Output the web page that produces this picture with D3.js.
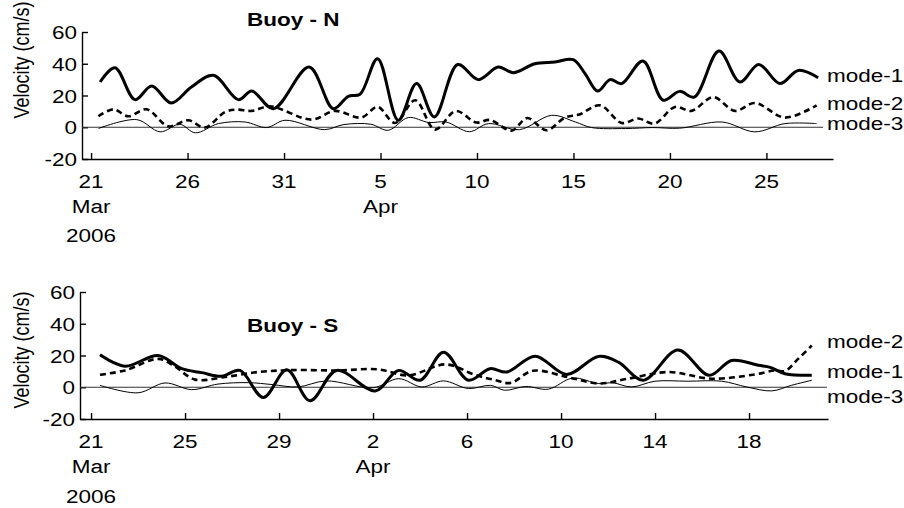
<!DOCTYPE html>
<html>
<head>
<meta charset="utf-8">
<script src="https://cdn.jsdelivr.net/npm/d3@7"></script>
<style>
    body { margin: 0; background: #fff; }
    svg { display: block; }
</style>
</head>
<body>
<div id="chart"></div>
<script>
// [days after 21 Mar 2006, velocity cm/s]
const northMode1 = [[0.47,28.5],[1.24,37.5],[2.28,17.4],[3.14,26],[4.15,15.3],[5.2,25.3],[6.34,32.7],[7.63,17.4],[8.33,22.8],[9.45,11.7],[11.3,37.9],[12.55,11.7],[13.33,19.5],[13.94,20.8],[14.85,43.2],[15.92,4.4],[16.87,27.5],[17.79,6.5],[19.0,39.5],[20.07,30],[21.1,37.9],[21.88,34.4],[23.0,40],[24.04,41.1],[24.99,42.6],[25.6,33.8],[26.25,22.8],[26.9,30],[27.5,27.5],[28.6,41.7],[29.65,17],[30.5,22.6],[31.26,19],[32.54,48],[33.63,28.5],[34.6,39.6],[35.7,27.5],[36.65,35.8],[37.68,31.2]];
const northMode2 = [[0.38,6.9],[1.16,11.3],[1.93,6.9],[2.88,11.3],[4.0,0.6],[5.04,4.4],[5.9,-0.2],[6.94,9.6],[7.55,11.1],[8.33,10.3],[9.27,13.2],[11.43,4.8],[12.64,10.3],[14.0,6.1],[14.85,12.8],[15.75,2.7],[16.8,17],[17.82,-1.5],[18.9,10.2],[19.97,3],[20.67,4.6],[21.8,-2.1],[22.6,5.8],[23.6,-1.9],[24.56,6.1],[25.3,8],[26.37,13.8],[27.5,2.7],[28.36,5.5],[29.2,2.3],[30.26,12.8],[31.12,10.3],[32.24,19],[33.37,10.3],[34.4,15.3],[35.96,6.1],[37.6,13.8]];
const northMode3 = [[0.38,-0.8],[2.37,4.8],[3.58,-2.9],[4.6,1.9],[5.4,-3.5],[6.6,2.3],[7.98,3.3],[9.1,-0.2],[10.05,4.4],[12.1,-1.5],[13.1,1.7],[14.5,1.9],[15.4,-1.9],[16.44,6.1],[17.5,3],[18.4,3.3],[19.6,-2.8],[20.6,2.3],[22.2,-1.5],[23.87,7.5],[25.1,3.3],[25.94,-0.2],[27.7,-0.8],[29.1,-0.2],[30.5,-0.6],[32.7,3.3],[34.4,-2.9],[35.96,2.3],[37.6,2.3]];

const southMode1 = [[0.38,20.4],[1.45,13.3],[2.86,20],[3.86,11.7],[4.71,9.2],[5.56,6.9],[6.34,10.6],[7.33,-6.5],[8.33,11],[9.32,-8.5],[10.45,10.6],[12.09,-2.3],[13.08,10.6],[14.0,4.4],[15.0,22],[16.06,4.4],[16.98,11.7],[17.69,9.6],[18.9,19.6],[20.24,8.1],[21.59,19.4],[22.44,15.8],[23.5,4.4],[24.97,23.5],[26.3,7.5],[27.26,16.9],[28.4,13.8],[28.9,12.5],[29.53,8.5],[30.67,7.5]];
const southMode2 = [[0.38,7.9],[1.45,10.6],[2.86,17.9],[3.5,13.8],[4.43,4.8],[5.7,6.5],[7.12,9.6],[8.54,10.8],[10.52,10.6],[12.2,11.3],[13.5,7.5],[15.1,14.4],[16.3,8],[17.2,4.5],[17.85,2.7],[18.8,10.4],[20.3,6.3],[21.6,2.4],[22.86,5.4],[24.57,9.6],[26.4,5.4],[28.26,8.1],[29.1,10.6],[29.53,10.2],[30.1,18],[30.67,26.3]];
const southMode3 = [[0.38,1.2],[2.0,-3.5],[3.15,2.7],[4.28,-1.5],[5.4,2],[6.7,2.9],[7.7,1.7],[8.8,0.2],[10.0,4],[12.0,-0.3],[13.1,5.4],[14.07,0.2],[15.0,4],[16.06,-0.8],[17.0,1.2],[17.6,-1.9],[18.5,0.5],[19.46,-1.2],[20.5,5.8],[21.6,2.3],[22.2,2.8],[23.0,0.2],[24.0,3.8],[25.4,3.8],[26.84,3.8],[27.9,0.2],[28.97,-2.3],[29.8,1.2],[30.67,4.4]];

const yTicks = [-20, 0, 20, 40, 60];
const northTicks = [0, 5, 10, 15, 20, 25, 30, 35];
const northTickLabels = ["21", "26", "31", "5", "10", "15", "20", "25"];
const southTicks = [0, 4, 8, 12, 16, 20, 24, 28];
const southTickLabels = ["21", "25", "29", "2", "6", "10", "14", "18"];

const FONT = '"Liberation Sans", Arial, Helvetica, sans-serif';
const STRETCH = 1.25; // the scanned figure is wider than it is tall

const svg = d3.select("#chart").append("svg")
    .attr("width", 904)
    .attr("height", 508);

function label(x, y, text, anchor, bold) {
    return svg.append("text")
        .attr("transform", `translate(${x},${y}) scale(${STRETCH},1)`)
        .attr("text-anchor", anchor)
        .attr("dominant-baseline", "central")
        .attr("font-family", FONT)
        .attr("font-size", 18)
        .attr("font-weight", bold ? "bold" : "normal")
        .attr("fill", "#000")
        .text(text);
}

function drawPanel(p) {
    const x = d3.scaleLinear().domain(p.xDomain).range([p.left, p.right]);
    const y = d3.scaleLinear().domain([-20, 60]).range([p.bottom, p.top]);

    svg.append("g")
        .attr("transform", `translate(0,${p.bottom})`)
        .call(d3.axisBottom(x).tickValues(p.ticks).tickSize(-6).tickSizeOuter(0).tickFormat(""))
        .call(g => g.selectAll("path, line").attr("stroke", "#000").attr("stroke-width", 1.4));

    svg.append("g")
        .attr("transform", `translate(${p.left},0)`)
        .call(d3.axisLeft(y).tickValues(yTicks).tickSize(-6).tickSizeOuter(0).tickFormat(""))
        .call(g => g.selectAll("path, line").attr("stroke", "#000").attr("stroke-width", 1.4));

    // zero reference
    svg.append("line")
        .attr("x1", p.left).attr("x2", p.zeroEnd)
        .attr("y1", y(0)).attr("y2", y(0))
        .attr("stroke", "#333")
        .attr("stroke-width", 1.2);

    yTicks.forEach(v => label(p.left - 5, y(v) + 1, v, "end"));
    p.ticks.forEach((t, i) => label(x(t), p.labelY[0], p.tickLabels[i], "middle"));
    label(x(0), p.labelY[1], "Mar", "middle");
    label(x(p.aprTick), p.labelY[1], "Apr", "middle");
    label(x(0), p.labelY[2], "2006", "middle");

    svg.append("text")
        .attr("transform", `translate(21,${p.yLabelY}) rotate(-90) scale(1,${STRETCH})`)
        .attr("text-anchor", "middle")
        .attr("dominant-baseline", "central")
        .attr("font-family", FONT)
        .attr("font-size", 18)
        .text("Velocity (cm/s)");

    label(247, p.titleY, p.title, "start", true);

    const line = d3.line()
        .x(d => x(d[0]))
        .y(d => y(d[1]))
        .curve(d3.curveCatmullRom.alpha(0.5));

    p.series.forEach(s => {
        svg.append("path")
            .datum(s.data)
            .attr("fill", "none")
            .attr("stroke", "#000")
            .attr("stroke-width", s.width)
            .attr("stroke-dasharray", s.dash)
            .attr("stroke-linejoin", "round")
            .attr("d", line);
        label(827, s.labelY, s.name, "start");
    });
}

drawPanel({
    left: 82, right: 833, top: 32, bottom: 159, zeroEnd: 823,
    xDomain: [-0.47, 38.45],
    ticks: northTicks, tickLabels: northTickLabels, aprTick: 15,
    labelY: [181.5, 207, 236], yLabelY: 60,
    title: "Buoy - N", titleY: 20,
    series: [
        {name: "mode-1", data: northMode1, width: 3, dash: null, labelY: 76},
        {name: "mode-2", data: northMode2, width: 2.6, dash: "6,4", labelY: 104},
        {name: "mode-3", data: northMode3, width: 1, dash: null, labelY: 124}
    ]
});

drawPanel({
    left: 80, right: 828, top: 292, bottom: 419, zeroEnd: 827,
    xDomain: [-0.47, 31.36],
    ticks: southTicks, tickLabels: southTickLabels, aprTick: 12,
    labelY: [442, 467, 497], yLabelY: 350,
    title: "Buoy - S", titleY: 326,
    series: [
        {name: "mode-1", data: southMode1, width: 3, dash: null, labelY: 372},
        {name: "mode-2", data: southMode2, width: 2.6, dash: "6,4", labelY: 342},
        {name: "mode-3", data: southMode3, width: 1, dash: null, labelY: 397}
    ]
});
</script>
</body>
</html>
